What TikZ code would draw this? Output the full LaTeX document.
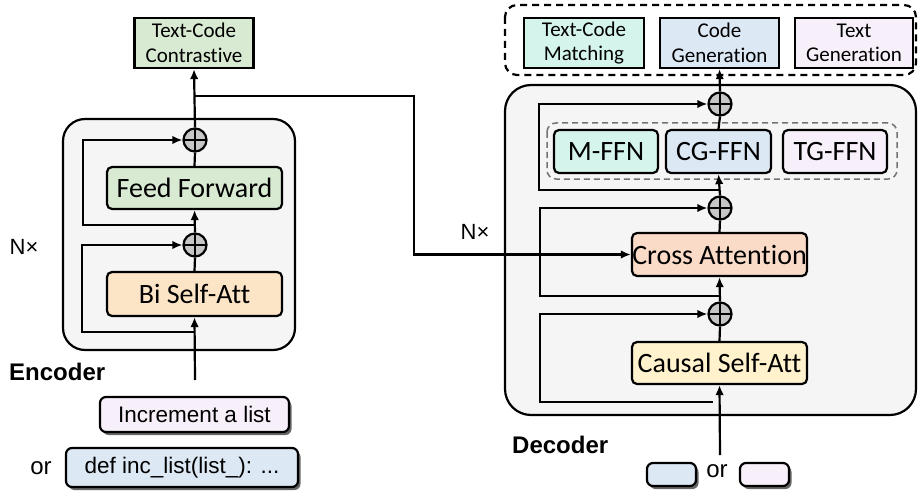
\documentclass[tikz,border=0pt]{standalone}
\usepackage{fontspec}
\setmainfont{Carlito}[Ligatures=NoCommon]
\newfontfamily\arialf{Liberation Sans}
\usetikzlibrary{arrows.meta,shadows}

\definecolor{cgreen}{HTML}{D9EAD3}
\definecolor{corange}{HTML}{FCE4C6}
\definecolor{cpeach}{HTML}{FADBC8}
\definecolor{cyellow}{HTML}{FFF2CC}
\definecolor{cmint}{HTML}{D5F5EC}
\definecolor{cblue}{HTML}{DDE8F5}
\definecolor{clav}{HTML}{F7F0FA}
\definecolor{cpanel}{HTML}{F5F5F5}
\definecolor{cplus}{HTML}{C6C6C6}

\tikzset{
  >={Latex[length=10pt,width=8.5pt]},
  wire/.style={line width=2.2pt, black},
  panel/.style={draw=black, line width=2.2pt, fill=cpanel, rounded corners=22pt},
  headbox/.style={draw=black, line width=2.2pt, align=center, inner sep=0pt,
    font=\fontsize{21}{24.5}\selectfont},
  layerbox/.style={draw=black, line width=2.2pt, rounded corners=5pt, inner sep=0pt,
    minimum height=43pt, font=\fontsize{28}{30}\selectfont},
  inbox/.style={draw=black, line width=2.2pt, rounded corners=6pt, inner sep=0pt,
    font=\arialf\fontsize{22.5}{26}\selectfont,
    drop shadow={shadow xshift=2.5pt, shadow yshift=-3pt, opacity=0.75, fill=black!80}},
  addnode/.style={circle, draw=black, line width=2.2pt, fill=cplus, inner sep=0pt,
    minimum size=23pt,
    path picture={\draw[line width=2.2pt]
      (path picture bounding box.north) -- (path picture bounding box.south)
      (path picture bounding box.west) -- (path picture bounding box.east);}},
  plainlbl/.style={font=\arialf\fontsize{22}{26}\selectfont, inner sep=0pt},
  titlelbl/.style={font=\arialf\bfseries\fontsize{24}{28}\selectfont, inner sep=0pt, anchor=west},
}

\begin{document}
\begin{tikzpicture}[x=1pt,y=1pt,yscale=-1]
\useasboundingbox (0,0) rectangle (918,492);

% ---------------- encoder ----------------
\draw[panel] (63,119) rectangle (295,350);

\node[headbox, fill=cgreen, minimum width=119pt, minimum height=50pt] (tcc) at (194,43)
  {Text-Code\\Contrastive};
\node[addnode] (ep1) at (195,140) {};
\node[layerbox, fill=cgreen, minimum width=175pt, minimum height=42pt] (ff) at (194.5,188) {Feed Forward};
\node[addnode] (ep2) at (195,245) {};
\node[layerbox, fill=corange, minimum width=175pt, minimum height=44pt] (bsa) at (194.5,294) {Bi Self-Att};

\coordinate (ein) at (195,380);
\coordinate (es1) at (195,225);
\coordinate (es2) at (195,332);
\coordinate (ebr) at (195,96);

\node[inbox, fill=clav, minimum width=189pt, minimum height=35pt] (inc) at (194.5,414.5) {Increment a list};
\node[inbox, fill=cblue, minimum width=232pt, minimum height=39pt] (code) at (182,467.5) {def inc\_list(list\_): ...};
\node[plainlbl, font=\arialf\fontsize{24}{28}\selectfont] (eor) at (41,468) {or};
\node[titlelbl] (enc) at (9,372) {Encoder};
\node[plainlbl] (en) at (24,247) {N×};

\draw[wire,->] (ein) -- (bsa.south);
\draw[wire] (bsa.north) -- (ep2.south);
\draw[wire,->] (ep2.north) -- (ff.south);
\draw[wire] (ff.north) -- (ep1.south);
\draw[wire,->] (ep1.north) -- (tcc.south);
\draw[wire,->] (es1) -- (83,225) -- (83,140) -- (ep1.west);
\draw[wire,->] (es2) -- (82,332) -- (82,245) -- (ep2.west);

% ---------------- decoder ----------------
\draw[line width=2.2pt, dash pattern=on 7pt off 5pt, rounded corners=12pt] (505,5) rectangle (916,75);
\draw[panel, rounded corners=26pt] (505,85) rectangle (916,415);
\draw[line width=1.5pt, draw=black!55, dash pattern=on 6pt off 4pt, rounded corners=9pt] (547,123) rectangle (897,179);

\node[headbox, fill=cmint, minimum width=120pt, minimum height=50pt] (tcm) at (584,43) {Text-Code\\Matching};
\node[headbox, fill=cblue, minimum width=119pt, minimum height=50pt] (cgen) at (719.5,43) {Code\\Generation};
\node[headbox, fill=clav, minimum width=118pt, minimum height=50pt] (tgen) at (854,43) {Text\\Generation};

\node[addnode] (dp1) at (720,104) {};
\node[layerbox, fill=cmint, minimum width=104pt] (mffn) at (606,151.5) {M-FFN};
\node[layerbox, fill=cblue, minimum width=105pt] (cgffn) at (718.5,151.5) {CG-FFN};
\node[layerbox, fill=clav, minimum width=104pt] (tgffn) at (835,151.5) {TG-FFN};
\node[addnode] (dp2) at (720,208) {};
\node[layerbox, fill=cpeach, minimum width=175pt] (ca) at (719.5,254.5) {Cross Attention};
\node[addnode] (dp3) at (720,314) {};
\node[layerbox, fill=cyellow, minimum width=175pt, minimum height=42pt] (csa) at (719.5,363) {Causal Self-Att};

\coordinate (din) at (720,455);
\coordinate (ds1) at (720,190);
\coordinate (ds2) at (720,296);
\coordinate (ds3) at (713,402);

\node[inbox, fill=cblue, minimum width=49pt, minimum height=23pt] (tokc) at (671.5,474.5) {};
\node[inbox, fill=clav, minimum width=49pt, minimum height=23pt] (tokt) at (764.5,474.5) {};
\node[plainlbl, font=\arialf\fontsize{24}{28}\selectfont] (dor) at (717,471) {or};
\node[titlelbl] (dec) at (512,445) {Decoder};
\node[plainlbl] (dn) at (475,232) {N×};

\draw[wire,->] (din) -- (csa.south);
\draw[wire] (csa.north) -- (dp3.south);
\draw[wire,->] (dp3.north) -- (ca.south);
\draw[wire] (ca.north) -- (dp2.south);
\draw[wire,->] (dp2.north) -- (cgffn.south);
\draw[wire] (cgffn.north) -- (dp1.south);
\draw[wire,->] (dp1.north) -- (cgen.south);
\draw[wire,->] (ds1) -- (539,190) -- (539,104) -- (dp1.west);
\draw[wire,->] (ds2) -- (540,296) -- (540,208) -- (dp2.west);
\draw[wire,->] (ds3) -- (540,402) -- (540,314) -- (dp3.west);

% encoder output fed into cross attention
\draw[wire,->] (ebr) -- (414,96) -- (414,254.5) -- (ca.west);
\end{tikzpicture}
\end{document}
